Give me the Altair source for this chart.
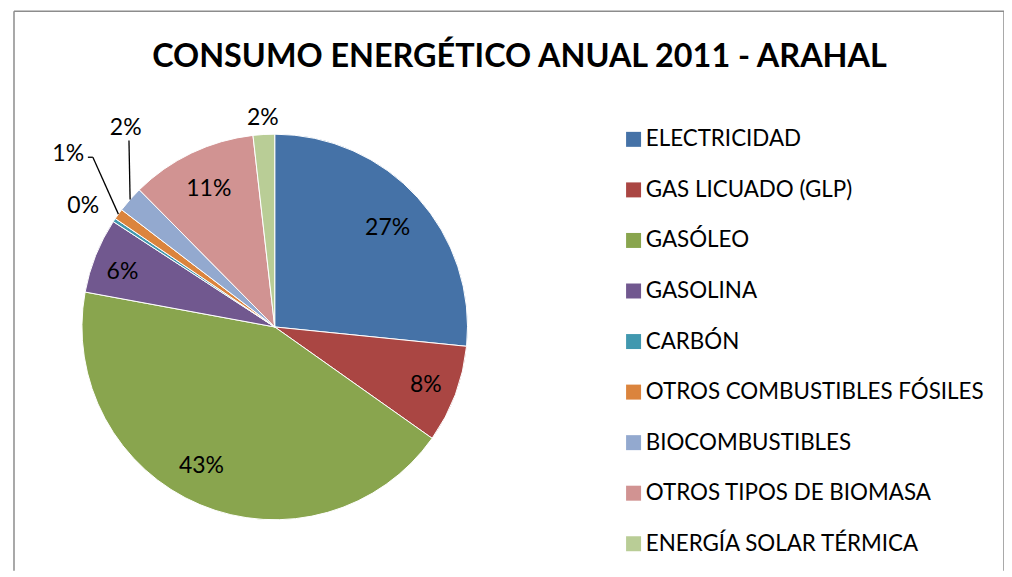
import altair as alt
import pandas as pd

# ---- data ----
categories = [
    "ELECTRICIDAD",
    "GAS LICUADO (GLP)",
    "GASÓLEO",
    "GASOLINA",
    "CARBÓN",
    "OTROS COMBUSTIBLES FÓSILES",
    "BIOCOMBUSTIBLES",
    "OTROS TIPOS DE BIOMASA",
    "ENERGÍA SOLAR TÉRMICA",
]
values = [26.6, 8.2, 43.1, 6.3, 0.3, 0.9, 2.2, 10.6, 1.8]
title_text = "CONSUMO ENERGÉTICO ANUAL 2011 - ARAHAL"

# ---- style ----
colors = ["#4572A7", "#AA4643", "#89A54E", "#71588F", "#4198AF",
          "#DB843D", "#93A9CF", "#D19392", "#B9CD96"]
FONT = "Lato"
W, H = 991, 560
CX, CY, R = 261, 316, 193

# label placement: (angle shift in degrees, radius in px)
LABEL_PLACE = {
    "ELECTRICIDAD": (1, 150),
    "GAS LICUADO (GLP)": (0.5, 162),
    "GASÓLEO": (5, 157),
    "GASOLINA": (-2, 162),
    "CARBÓN": (-1.3, 227),
    "OTROS COMBUSTIBLES FÓSILES": (4.2, 270),
    "BIOCOMBUSTIBLES": (11.8, 249),
    "OTROS TIPOS DE BIOMASA": (0, 153),
    "ENERGÍA SOLAR TÉRMICA": (0, 210),
}
# leader lines: (end angle shift deg, end radius px, horizontal tail px)
LEADERS = {
    "OTROS COMBUSTIBLES FÓSILES": (7.2, 249, -5),
    "BIOCOMBUSTIBLES": (10.6, 237, 0),
}


def expr_map(d, i, default):
    e = str(default)
    for k, v in d.items():
        e = f"(datum.cat == '{k}' ? {v[i]} : {e})"
    return e


df = pd.DataFrame({"cat": categories, "value": values, "idx": list(range(len(values)))})

base = alt.Chart(df).transform_joinaggregate(
    total="sum(value)"
).transform_window(
    cum="sum(value)", sort=[alt.SortField("idx")]
).transform_calculate(
    mid="(datum.cum - datum.value / 2) / datum.total * 2 * PI",
    pct="datum.value / datum.total * 100",
)

arcs = alt.Chart(df).mark_arc(outerRadius=R, stroke="white", strokeWidth=1).encode(
    theta=alt.Theta("value:Q", stack=True),
    color=alt.Color(
        "cat:N",
        scale=alt.Scale(domain=categories, range=colors),
        legend=alt.Legend(
            orient="none", legendX=609, legendY=117, title=None,
            symbolType="square", symbolSize=225, symbolStrokeWidth=0,
            labelFont=FONT, labelFontSize=22.4, labelColor="black",
            labelLimit=500, labelOffset=1, rowPadding=27.6, padding=0,
        ),
    ),
    order=alt.Order("idx:Q"),
    x=alt.value(CX),
    y=alt.value(CY),
)

labels = base.transform_calculate(
    ang=f"datum.mid + ({expr_map(LABEL_PLACE, 0, 0)}) * PI / 180",
    rr=expr_map(LABEL_PLACE, 1, 157),
).transform_calculate(
    lx=f"{CX} + datum.rr * sin(datum.ang)",
    ly=f"{CY} - datum.rr * cos(datum.ang)",
    lab="format(datum.pct, '.0f') + '%'",
).mark_text(font=FONT, fontSize=23, color="black", align="center", baseline="middle").encode(
    x=alt.X("lx:Q", scale=None, axis=None),
    y=alt.Y("ly:Q", scale=None, axis=None),
    text="lab:N",
)

leader_names = " || ".join(f"datum.cat == '{k}'" for k in LEADERS)
leader_base = base.transform_filter(leader_names).transform_calculate(
    ea=f"datum.mid + ({expr_map(LEADERS, 0, 0)}) * PI / 180",
    er=expr_map(LEADERS, 1, 0),
    tail=expr_map(LEADERS, 2, 0),
).transform_calculate(
    sx=f"{CX} + {R} * sin(datum.mid)",
    sy=f"{CY} - {R} * cos(datum.mid)",
    ex=f"{CX} + datum.er * sin(datum.ea)",
    ey=f"{CY} - datum.er * cos(datum.ea)",
).transform_calculate(
    tx="datum.ex + datum.tail",
)

leaders = leader_base.mark_rule(color="black", strokeWidth=1.3).encode(
    x=alt.X("sx:Q", scale=None, axis=None),
    y=alt.Y("sy:Q", scale=None, axis=None),
    x2="ex:Q",
    y2="ey:Q",
)
tails = leader_base.mark_rule(color="black", strokeWidth=1.3).encode(
    x=alt.X("ex:Q", scale=None, axis=None),
    y=alt.Y("ey:Q", scale=None, axis=None),
    x2="tx:Q",
)

title = alt.Chart(pd.DataFrame({"t": [title_text]})).mark_text(
    font=FONT, fontSize=32.4, fontWeight="bold", color="black", align="center", baseline="middle"
).encode(x=alt.value(506), y=alt.value(46), text="t:N")

one = pd.DataFrame({"a": [0]})
border_style = dict(color="#8c8c8c", strokeWidth=1.5)
top = alt.Chart(one).mark_rule(**border_style).encode(
    x=alt.value(0), x2=alt.value(W), y=alt.value(0), y2=alt.value(0))
left = alt.Chart(one).mark_rule(**border_style).encode(
    x=alt.value(0), x2=alt.value(0), y=alt.value(0), y2=alt.value(H))
right = alt.Chart(one).mark_rule(**border_style).encode(
    x=alt.value(W), x2=alt.value(W), y=alt.value(0), y2=alt.value(H))

chart = alt.layer(top, left, right, arcs, leaders, tails, labels, title).properties(
    width=W, height=H,
    padding={"left": 6, "top": 3, "right": 0, "bottom": 0},
    autosize=alt.AutoSizeParams(type="none"),
).configure_view(stroke="transparent").resolve_scale(x="independent", y="independent")

chart.save("out.html", embed_options={"renderer": "svg", "actions": False})
